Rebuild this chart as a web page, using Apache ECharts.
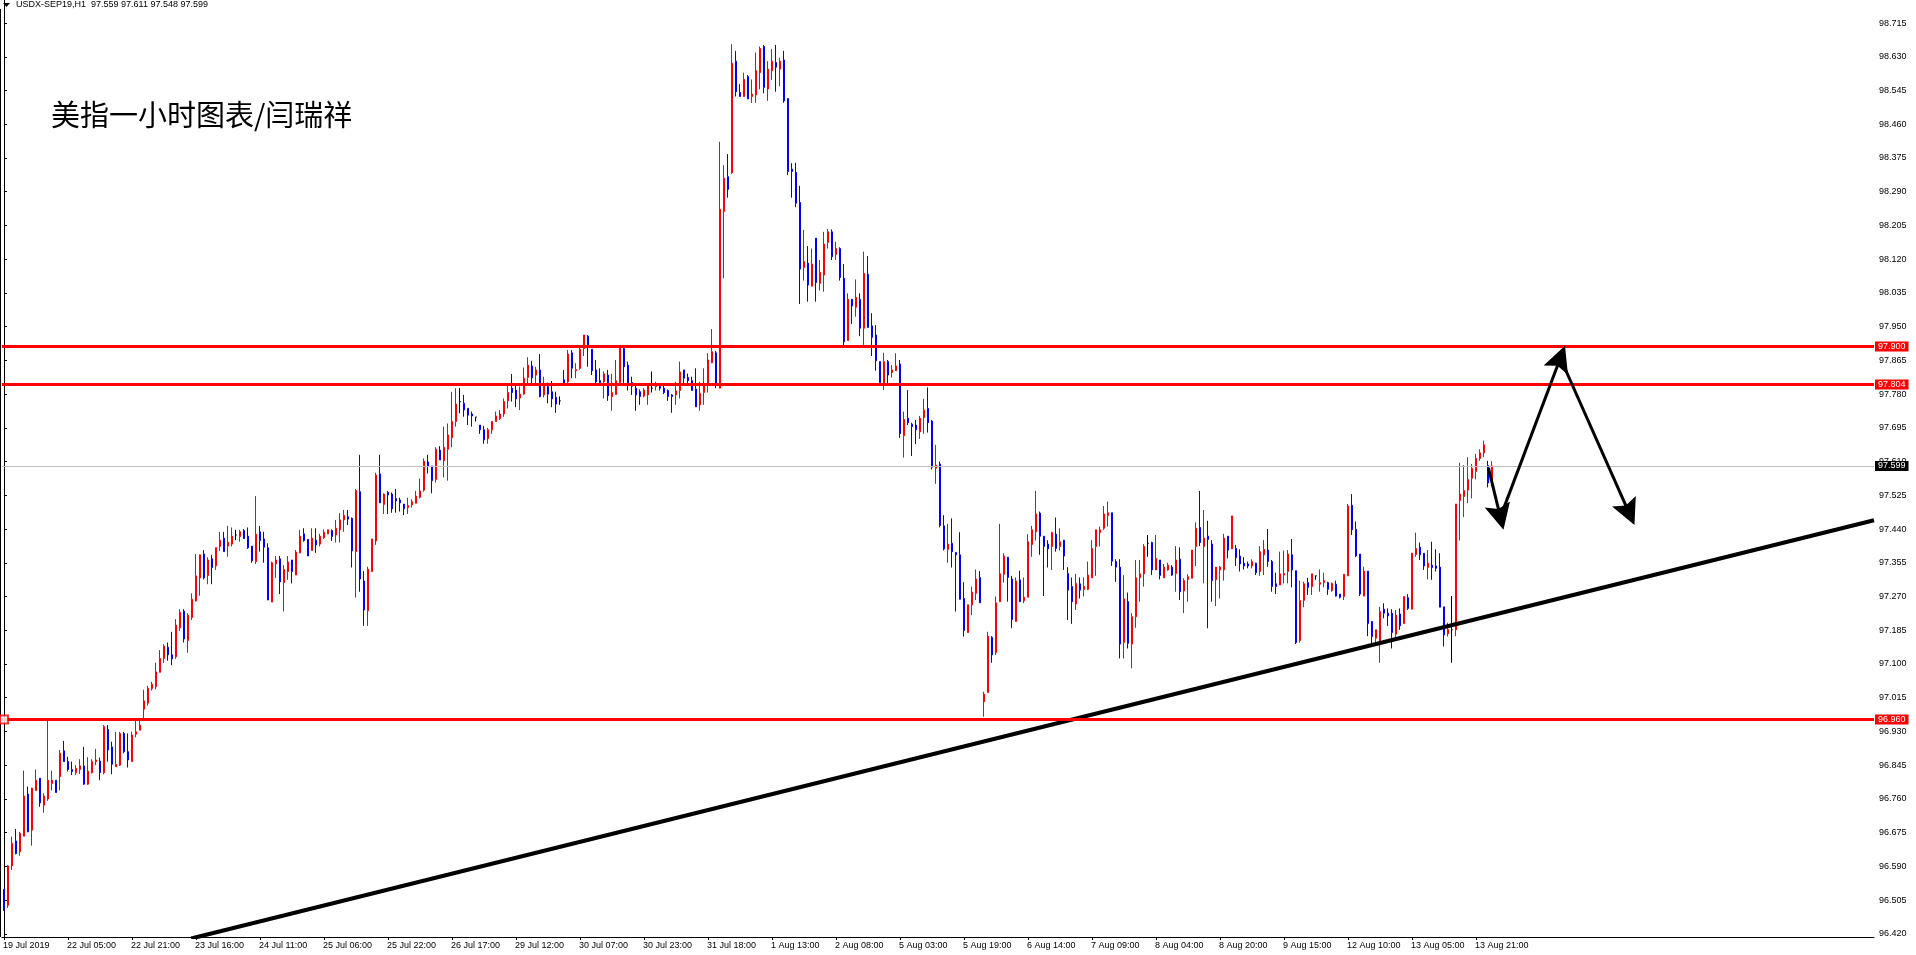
<!DOCTYPE html>
<html><head><meta charset="utf-8">
<script src="https://cdn.jsdelivr.net/npm/echarts@6/dist/echarts.min.js"></script>
<style>html,body{margin:0;padding:0;background:#fff;}#c{width:1916px;height:955px;}</style>
</head><body><div id="c"></div>
<script>
// ---- data ----
const sessionDays = ['19 Jul','22 Jul','23 Jul','24 Jul','25 Jul','26 Jul','29 Jul','30 Jul','31 Jul','1 Aug','2 Aug','5 Aug','6 Aug','7 Aug','8 Aug','9 Aug','12 Aug','13 Aug','14 Aug','15 Aug','16 Aug','19 Aug','20 Aug'];
const yTickLabels = ['98.715','98.630','98.545','98.460','98.375','98.290','98.205','98.120','98.035','97.950','97.865','97.780','97.695','97.610','97.525','97.440','97.355','97.270','97.185','97.100','97.015','96.930','96.845','96.760','96.675','96.590','96.505','96.420'];
const levelLines = [97.900, 97.804, 96.960];
const lastPrice = 97.599;
const headerText = 'USDX-SEP19,H1  97.559 97.611 97.548 97.599';
const titleText = '美指一小时图表/闫瑞祥';
// trend line points [bar index, price]
const trendLine = [[46.8, 96.408], [467.5, 97.462]];
// arrows [bar index, price]
const arrowPaths = [
  [[371.1, 97.594], [374.1, 97.470]],
  [[374.1, 97.470], [389.1, 97.871]],
  [[389.3, 97.866], [406.3, 97.480]]
];
// [open, high, low, close]
const ohlc = [
[96.532,96.532,96.478,96.480],[96.492,96.593,96.485,96.591],[96.591,96.665,96.581,96.648],[96.654,96.684,96.620,96.622],
[96.627,96.677,96.617,96.673],[96.666,96.831,96.666,96.767],[96.772,96.791,96.676,96.677],[96.681,96.788,96.642,96.787],
[96.781,96.834,96.781,96.807],[96.812,96.812,96.740,96.750],[96.744,96.774,96.725,96.767],[96.760,96.960,96.755,96.807],
[96.799,96.831,96.781,96.807],[96.807,96.807,96.776,96.776],[96.816,96.883,96.781,96.875],[96.881,96.906,96.854,96.854],
[96.854,96.866,96.829,96.834],[96.834,96.854,96.820,96.829],[96.826,96.845,96.820,96.837],[96.834,96.860,96.823,96.843],
[96.843,96.891,96.795,96.797],[96.797,96.865,96.795,96.830],[96.826,96.860,96.824,96.854],[96.854,96.886,96.845,96.858],
[96.855,96.864,96.807,96.826],[96.826,96.946,96.822,96.942],[96.935,96.946,96.854,96.883],[96.891,96.904,96.822,96.847],
[96.841,96.929,96.841,96.847],[96.845,96.929,96.843,96.925],[96.925,96.929,96.875,96.879],[96.879,96.925,96.839,96.858],
[96.854,96.929,96.854,96.921],[96.923,96.959,96.915,96.929],[96.933,96.959,96.933,96.946],[96.986,97.035,96.963,97.007],
[97.001,97.045,96.995,97.039],[97.038,97.055,97.033,97.049],[97.043,97.103,97.036,97.080],[97.079,97.135,97.079,97.114],
[97.114,97.150,97.103,97.145],[97.142,97.154,97.108,97.123],[97.123,97.181,97.097,97.113],[97.118,97.213,97.113,97.198],
[97.191,97.238,97.183,97.230],[97.233,97.238,97.154,97.163],[97.159,97.228,97.128,97.223],[97.217,97.278,97.211,97.263],
[97.259,97.377,97.257,97.322],[97.317,97.375,97.272,97.375],[97.377,97.387,97.313,97.317],[97.323,97.369,97.301,97.362],
[97.365,97.375,97.301,97.343],[97.347,97.393,97.337,97.393],[97.396,97.433,97.385,97.412],[97.417,97.433,97.383,97.383],
[97.397,97.448,97.370,97.407],[97.402,97.444,97.396,97.422],[97.425,97.438,97.412,97.425],[97.421,97.438,97.408,97.433],
[97.436,97.440,97.416,97.416],[97.422,97.444,97.390,97.393],[97.397,97.397,97.355,97.360],[97.358,97.523,97.352,97.427],
[97.433,97.448,97.383,97.411],[97.415,97.433,97.355,97.394],[97.393,97.404,97.261,97.261],[97.256,97.358,97.256,97.355],
[97.352,97.372,97.317,97.362],[97.365,97.372,97.276,97.307],[97.305,97.349,97.232,97.338],[97.333,97.372,97.312,97.357],
[97.362,97.362,97.303,97.333],[97.324,97.387,97.324,97.382],[97.380,97.438,97.379,97.422],[97.428,97.442,97.408,97.411],
[97.414,97.414,97.372,97.372],[97.386,97.442,97.386,97.417],[97.412,97.442,97.380,97.400],[97.402,97.428,97.396,97.422],
[97.418,97.439,97.415,97.432],[97.428,97.438,97.428,97.438],[97.436,97.439,97.410,97.421],[97.425,97.463,97.406,97.442],
[97.438,97.480,97.406,97.463],[97.463,97.488,97.433,97.474],[97.471,97.488,97.450,97.465],[97.467,97.469,97.343,97.385],
[97.383,97.541,97.267,97.537],[97.534,97.627,97.282,97.314],[97.309,97.334,97.196,97.236],[97.234,97.345,97.196,97.339],
[97.333,97.415,97.333,97.415],[97.410,97.582,97.400,97.576],[97.579,97.627,97.506,97.506],[97.502,97.530,97.478,97.528],
[97.532,97.536,97.478,97.526],[97.528,97.532,97.481,97.491],[97.517,97.541,97.481,97.511],[97.513,97.519,97.484,97.506],
[97.503,97.503,97.475,97.491],[97.494,97.519,97.478,97.499],[97.501,97.515,97.494,97.509],[97.505,97.536,97.505,97.523],
[97.520,97.567,97.517,97.536],[97.538,97.618,97.534,97.611],[97.609,97.627,97.580,97.599],[97.599,97.599,97.530,97.562],
[97.565,97.646,97.557,97.641],[97.639,97.649,97.614,97.614],[97.612,97.698,97.570,97.646],[97.641,97.706,97.562,97.677],
[97.670,97.786,97.646,97.711],[97.711,97.795,97.698,97.755],[97.761,97.795,97.732,97.761],[97.757,97.778,97.723,97.740],
[97.744,97.744,97.702,97.727],[97.730,97.736,97.698,97.725],[97.722,97.722,97.711,97.722],[97.702,97.702,97.680,97.690],
[97.690,97.700,97.655,97.665],[97.668,97.695,97.655,97.690],[97.690,97.711,97.680,97.711],[97.711,97.736,97.711,97.725],
[97.718,97.740,97.715,97.730],[97.730,97.769,97.723,97.761],[97.763,97.803,97.744,97.784],[97.795,97.831,97.761,97.784],
[97.790,97.806,97.747,97.768],[97.770,97.799,97.740,97.780],[97.780,97.847,97.778,97.820],[97.822,97.873,97.803,97.853],
[97.851,97.864,97.803,97.821],[97.828,97.849,97.803,97.841],[97.841,97.881,97.772,97.774],[97.778,97.824,97.772,97.805],
[97.799,97.809,97.757,97.780],[97.786,97.813,97.747,97.768],[97.772,97.786,97.733,97.755],[97.763,97.774,97.753,97.763],
[97.816,97.841,97.807,97.807],[97.811,97.891,97.807,97.881],[97.884,97.891,97.820,97.845],[97.839,97.858,97.820,97.842],
[97.845,97.898,97.841,97.893],[97.895,97.929,97.876,97.929],[97.926,97.929,97.849,97.898],[97.893,97.893,97.828,97.839],
[97.841,97.866,97.805,97.811],[97.814,97.845,97.803,97.809],[97.811,97.837,97.769,97.831],[97.828,97.841,97.763,97.776],
[97.774,97.831,97.738,97.784],[97.779,97.866,97.779,97.814],[97.809,97.904,97.806,97.901],[97.895,97.904,97.803,97.849],
[97.853,97.862,97.789,97.803],[97.809,97.824,97.778,97.800],[97.795,97.806,97.738,97.778],[97.786,97.792,97.753,97.774],
[97.775,97.795,97.772,97.790],[97.778,97.806,97.753,97.806],[97.795,97.837,97.784,97.795],[97.799,97.811,97.789,97.801],
[97.799,97.806,97.789,97.795],[97.795,97.806,97.780,97.784],[97.789,97.792,97.763,97.774],[97.778,97.780,97.733,97.774],
[97.778,97.811,97.753,97.788],[97.789,97.862,97.769,97.836],[97.841,97.841,97.803,97.820],[97.822,97.832,97.803,97.814],
[97.814,97.824,97.789,97.789],[97.793,97.845,97.748,97.748],[97.753,97.811,97.738,97.782],[97.784,97.845,97.753,97.806],
[97.807,97.883,97.784,97.866],[97.859,97.944,97.858,97.887],[97.884,97.889,97.795,97.803],[97.795,98.416,97.795,98.246],
[98.240,98.357,98.072,98.324],[98.328,98.385,98.275,98.296],[98.338,98.662,98.335,98.614],[98.619,98.645,98.530,98.542],
[98.540,98.561,98.530,98.530],[98.530,98.590,98.530,98.573],[98.580,98.584,98.524,98.524],[98.530,98.573,98.514,98.536],
[98.534,98.641,98.514,98.595],[98.590,98.656,98.548,98.651],[98.656,98.660,98.538,98.553],[98.549,98.619,98.519,98.599],
[98.595,98.650,98.572,98.619],[98.616,98.660,98.542,98.604],[98.599,98.628,98.556,98.619],[98.622,98.645,98.514,98.519],
[98.525,98.525,98.332,98.341],[98.347,98.362,98.275,98.341],[98.339,98.363,98.251,98.261],[98.263,98.305,98.007,98.095],
[98.099,98.194,98.066,98.114],[98.110,98.153,98.013,98.055],[98.052,98.147,98.052,98.108],[98.173,98.173,98.013,98.061],
[98.059,98.118,98.041,98.087],[98.080,98.189,98.038,98.158],[98.162,98.196,98.147,98.189],[98.189,98.195,98.118,98.126],
[98.132,98.164,98.118,98.147],[98.147,98.150,98.066,98.074],[98.072,98.108,97.901,97.912],[97.915,98.034,97.915,98.019],
[98.019,98.019,97.957,98.002],[97.999,98.069,97.975,98.024],[98.019,98.034,97.926,97.946],[97.946,98.139,97.904,98.084],
[98.082,98.128,97.948,97.948],[97.952,97.984,97.876,97.923],[97.929,97.954,97.839,97.864],[97.862,97.862,97.809,97.809],
[97.803,97.884,97.790,97.862],[97.862,97.866,97.803,97.828],[97.834,97.853,97.822,97.841],[97.839,97.883,97.839,97.851],
[97.856,97.866,97.670,97.680],[97.675,97.736,97.620,97.716],[97.719,97.790,97.702,97.708],[97.704,97.708,97.624,97.698],
[97.702,97.715,97.654,97.690],[97.685,97.725,97.667,97.719],[97.721,97.768,97.680,97.740],[97.744,97.797,97.683,97.708],
[97.712,97.715,97.590,97.596],[97.593,97.652,97.554,97.601],[97.604,97.610,97.444,97.449],[97.448,97.475,97.386,97.390],
[97.389,97.453,97.355,97.402],[97.404,97.467,97.343,97.383],[97.381,97.381,97.232,97.375],[97.375,97.432,97.263,97.263],
[97.265,97.306,97.169,97.184],[97.179,97.249,97.179,97.249],[97.249,97.295,97.223,97.281],[97.278,97.338,97.261,97.314],
[97.318,97.334,97.254,97.254],[97.005,97.030,96.967,97.024],[97.028,97.181,97.028,97.170],[97.167,97.170,97.103,97.123],
[97.129,97.270,97.123,97.254],[97.257,97.453,97.257,97.327],[97.326,97.379,97.305,97.372],[97.369,97.369,97.257,97.318],
[97.314,97.322,97.190,97.212],[97.207,97.318,97.207,97.309],[97.312,97.335,97.257,97.257],[97.259,97.318,97.253,97.268],
[97.268,97.427,97.268,97.408],[97.401,97.448,97.370,97.438],[97.433,97.536,97.411,97.478],[97.480,97.484,97.375,97.422],
[97.422,97.422,97.271,97.396],[97.402,97.412,97.343,97.390],[97.396,97.433,97.337,97.431],[97.427,97.469,97.383,97.391],
[97.396,97.442,97.386,97.408],[97.412,97.412,97.337,97.372],[97.328,97.344,97.211,97.286],[97.295,97.318,97.201,97.257],
[97.251,97.327,97.236,97.303],[97.302,97.318,97.265,97.286],[97.288,97.318,97.270,97.295],[97.288,97.358,97.286,97.324],
[97.317,97.412,97.317,97.391],[97.396,97.438,97.322,97.438],[97.431,97.446,97.396,97.438],[97.442,97.498,97.438,97.478],
[97.474,97.509,97.446,97.481],[97.481,97.481,97.347,97.359],[97.358,97.364,97.307,97.344],[97.344,97.364,97.114,97.150],
[97.154,97.324,97.114,97.264],[97.257,97.280,97.139,97.152],[97.150,97.228,97.089,97.219],[97.219,97.362,97.191,97.317],
[97.317,97.362,97.257,97.327],[97.327,97.402,97.295,97.396],[97.404,97.425,97.370,97.404],[97.406,97.408,97.324,97.337],
[97.337,97.425,97.337,97.366],[97.362,97.362,97.313,97.323],[97.317,97.352,97.317,97.344],[97.337,97.355,97.335,97.349],
[97.344,97.349,97.322,97.324],[97.328,97.397,97.282,97.362],[97.364,97.394,97.261,97.282],[97.284,97.316,97.228,97.310],
[97.313,97.326,97.257,97.320],[97.316,97.387,97.316,97.387],[97.396,97.457,97.347,97.442],[97.444,97.536,97.397,97.406],
[97.396,97.488,97.303,97.417],[97.422,97.461,97.190,97.414],[97.402,97.412,97.257,97.310],[97.312,97.344,97.246,97.344],
[97.337,97.347,97.265,97.344],[97.337,97.428,97.310,97.417],[97.422,97.422,97.366,97.387],[97.390,97.473,97.390,97.473],
[97.391,97.400,97.347,97.368],[97.372,97.389,97.333,97.352],[97.354,97.369,97.338,97.347],[97.352,97.358,97.341,97.347],
[97.347,97.364,97.341,97.358],[97.354,97.355,97.324,97.330],[97.333,97.397,97.322,97.383],[97.375,97.412,97.324,97.389],
[97.387,97.440,97.345,97.358],[97.358,97.362,97.282,97.295],[97.302,97.330,97.276,97.295],[97.299,97.383,97.299,97.327],
[97.324,97.386,97.303,97.328],[97.333,97.387,97.303,97.377],[97.375,97.415,97.293,97.337],[97.335,97.335,97.150,97.154],
[97.159,97.310,97.154,97.260],[97.260,97.307,97.243,97.302],[97.305,97.317,97.274,97.293],[97.295,97.327,97.274,97.327],
[97.322,97.322,97.312,97.322],[97.301,97.338,97.282,97.305],[97.305,97.330,97.293,97.310],[97.305,97.307,97.274,97.288],
[97.285,97.305,97.282,97.303],[97.301,97.310,97.270,97.271],[97.276,97.276,97.265,97.268],[97.270,97.326,97.261,97.326],
[97.322,97.503,97.322,97.498],[97.500,97.528,97.425,97.438],[97.439,97.459,97.369,97.372],[97.377,97.377,97.271,97.276],
[97.271,97.345,97.271,97.334],[97.334,97.334,97.170,97.202],[97.207,97.207,97.150,97.169],[97.165,97.186,97.152,97.186],
[97.156,97.244,97.103,97.232],[97.238,97.253,97.215,97.228],[97.228,97.240,97.196,97.221],[97.228,97.238,97.139,97.179],
[97.175,97.236,97.160,97.223],[97.226,97.240,97.186,97.196],[97.202,97.270,97.202,97.270],[97.267,97.276,97.236,97.240],
[97.238,97.379,97.238,97.379],[97.376,97.431,97.370,97.391],[97.394,97.406,97.362,97.375],[97.379,97.379,97.337,97.347],
[97.343,97.387,97.313,97.354],[97.349,97.408,97.312,97.343],[97.347,97.389,97.333,97.341],[97.344,97.379,97.243,97.243],
[97.244,97.244,97.144,97.173],[97.176,97.204,97.169,97.187],[97.186,97.271,97.103,97.186],[97.186,97.503,97.170,97.503],
[97.512,97.607,97.411,97.528],[97.522,97.601,97.470,97.537],[97.538,97.621,97.505,97.565],[97.568,97.604,97.517,97.593],
[97.585,97.629,97.565,97.618],[97.618,97.641,97.612,97.632],[97.632,97.663,97.621,97.652],[97.600,97.612,97.545,97.556],
[97.559,97.611,97.548,97.599]
];

// ---- build categories (hourly bars, session 03:00-23:00) ----
const TOTAL_SLOTS = 468;
const categories = [];
sessionDays.forEach((d, k) => {
  for (let h = (k === 0 ? 10 : 3); h <= 23; h++) {
    if (categories.length < TOTAL_SLOTS) categories.push(d + ' ' + String(h).padStart(2, '0') + ':00');
  }
});
while (categories.length < TOTAL_SLOTS) categories.push('');
categories[0] = '19 Jul 2019';
const lastLabelIndex = 368;
const showLabel = (idx) => idx % 16 === 0 && idx <= lastLabelIndex;

const candleData = ohlc.map(r => [r[0], r[3], r[2], r[1]]);
const yTicks = yTickLabels.map(Number);

const chart = echarts.init(document.getElementById('c'), null, {renderer: 'canvas'});
const FONT = 'Liberation Sans, Arial, sans-serif';
const arrowSymbol = 'path://M6,0 L12,28 L6,23 L0,28 Z';

const levelMarkData = levelLines.map(v => ({
  yAxis: v,
  lineStyle: {color: '#ff0000', width: 3, type: 'solid'},
  label: {backgroundColor: '#ff0000', color: '#ffffff'}
}));
levelMarkData.push({
  yAxis: lastPrice,
  lineStyle: {color: '#c0c0c0', width: 1, type: 'solid'},
  label: {backgroundColor: '#000000', color: '#ffffff'}
});

chart.setOption({
  animation: false,
  backgroundColor: '#ffffff',
  grid: {left: 0, right: 42, top: 0, bottom: 18, containLabel: false},
  xAxis: [{
    type: 'category',
    data: categories,
    boundaryGap: true,
    axisLine: {show: true, lineStyle: {color: '#000', width: 1}},
    axisTick: {show: true, alignWithLabel: true, interval: showLabel, length: 3, lineStyle: {color: '#000'}},
    axisLabel: {show: true, interval: showLabel, align: 'left', margin: 4, fontSize: 9, fontFamily: FONT, color: '#000', padding: [0, 0, 0, -1]},
    splitLine: {show: false}
  }, {
    type: 'value', show: false, min: -0.5, max: TOTAL_SLOTS - 0.5
  }],
  yAxis: [{
    type: 'value',
    position: 'right',
    min: 96.4119,
    max: 98.7732,
    axisLine: {show: true, lineStyle: {color: '#000', width: 1}},
    axisTick: {show: true, length: 3, customValues: yTicks, lineStyle: {color: '#000'}},
    axisLabel: {show: true, customValues: yTicks, margin: 5, fontSize: 9, fontFamily: FONT, color: '#000', align: 'left',
      formatter: v => Number(v).toFixed(3)},
    splitLine: {show: false}
  }],
  series: [{
    type: 'candlestick',
    name: 'USDX',
    data: candleData,
    barWidth: 2,
    itemStyle: {
      color: '#ff0000', color0: '#0000ff',
      borderColor: '#ff0000', borderColor0: '#0000ff',
      borderColorDoji: '#000000', borderWidth: 1
    },
    markLine: {
      silent: true,
      symbol: ['none', 'none'],
      precision: 3,
      label: {position: 'end', distance: 1, fontSize: 9, fontFamily: FONT, padding: [1, 3, 0, 3],
        formatter: p => Number(p.value).toFixed(3)},
      data: levelMarkData
    }
  }, {
    type: 'line',
    xAxisIndex: 1,
    data: trendLine,
    symbol: 'none',
    lineStyle: {color: '#000', width: 4},
    clip: true,
    silent: true,
    z: 4
  }, {
    type: 'lines',
    coordinateSystem: 'cartesian2d',
    xAxisIndex: 1,
    yAxisIndex: 0,
    symbol: ['none', arrowSymbol],
    symbolSize: [12, 26],
    lineStyle: {color: '#000', width: 3, opacity: 1},
    data: arrowPaths.map(c => ({coords: c})),
    silent: true,
    z: 5
  }, {
    type: 'scatter',
    data: [[0, 96.960]],
    symbol: 'rect',
    symbolSize: 8,
    itemStyle: {color: '#ffffff', borderColor: '#ff0000', borderWidth: 2},
    silent: true,
    z: 6
  }],
  graphic: [
    {type: 'line', shape: {x1: 0.5, y1: 9, x2: 0.5, y2: 937}, style: {stroke: '#000', lineWidth: 1}, silent: true},
    {type: 'polygon', shape: {points: [[3, 3], [10, 3], [6.5, 7]]}, style: {fill: '#000'}, silent: true},
    {type: 'text', left: 16, top: 0, style: {text: headerText, fontSize: 9, fontFamily: FONT, fill: '#000'}, silent: true},
    {type: 'text', left: 51, top: 100, style: {text: titleText, fontSize: 29, fontFamily: 'Noto Sans CJK SC', fill: '#000'}, silent: true}
  ]
});
</script>
</body></html>
